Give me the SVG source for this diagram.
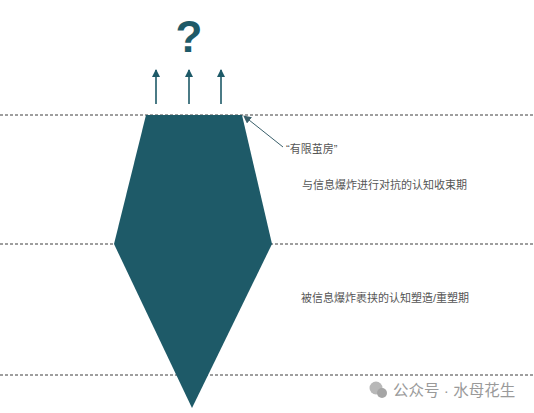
<svg xmlns="http://www.w3.org/2000/svg" width="534" height="413" viewBox="0 0 534 413">
<style>
.dash{stroke:#3e3e3e;stroke-width:1;stroke-dasharray:3,2;fill:none}
.lbl{font-family:"Liberation Sans","Noto Sans CJK SC",sans-serif;font-size:11px;fill:#555}
.up{stroke:#1e5a68;stroke-width:1.6;fill:none}
</style>
<defs>
<marker id="ah" markerWidth="8" markerHeight="8" refX="7" refY="4" orient="auto" markerUnits="userSpaceOnUse">
<path d="M0,0 L8,4 L0,8 Z" fill="#1e5a68"/>
</marker>
<marker id="ah2" markerWidth="8" markerHeight="8" refX="7" refY="4" orient="auto" markerUnits="userSpaceOnUse">
<path d="M0,0 L8,4 L0,8 Z" fill="#3a5f6a"/>
</marker>
</defs>
<rect width="534" height="413" fill="#ffffff"/>
<g id="levels">
<line class="dash" x1="0" y1="115" x2="534" y2="115"/>
<line class="dash" x1="0" y1="244" x2="534" y2="244"/>
<line class="dash" x1="0" y1="375" x2="534" y2="375"/>
</g>
<g id="crystal">
<polygon points="146,115 242,115 272,244 192,408 114,244" fill="#1e5a68"/>
</g>
<g id="question">
<text x="189" y="52" text-anchor="middle" font-family="Liberation Sans, sans-serif" font-weight="bold" font-size="44" fill="#1e5a68">?</text>
</g>
<g id="connectors">
<line class="up" x1="156" y1="104" x2="156" y2="70" marker-end="url(#ah)"/>
<line class="up" x1="189" y1="104" x2="189" y2="70" marker-end="url(#ah)"/>
<line class="up" x1="221" y1="104" x2="221" y2="70" marker-end="url(#ah)"/>
<line x1="283" y1="147" x2="244" y2="116" stroke="#3a5f6a" stroke-width="1" marker-end="url(#ah2)"/>
</g>
<g id="labels">
<text class="lbl" x="286" y="153">“有限茧房”</text>
<text class="lbl" x="302" y="189">与信息爆炸进行对抗的认知收束期</text>
<text class="lbl" x="301" y="302">被信息爆炸裹挟的认知塑造/重塑期</text>
</g>
<g id="watermark">
<circle cx="376" cy="388" r="6.5" fill="#b8b8b8"/>
<circle cx="382" cy="393" r="5" fill="#a5a5a5"/>
<text x="393" y="396" font-family="Liberation Sans,'Noto Sans CJK SC',sans-serif" font-size="15.5" fill="#9a9a9a">公众号 · 水母花生</text>
</g>
</svg>
